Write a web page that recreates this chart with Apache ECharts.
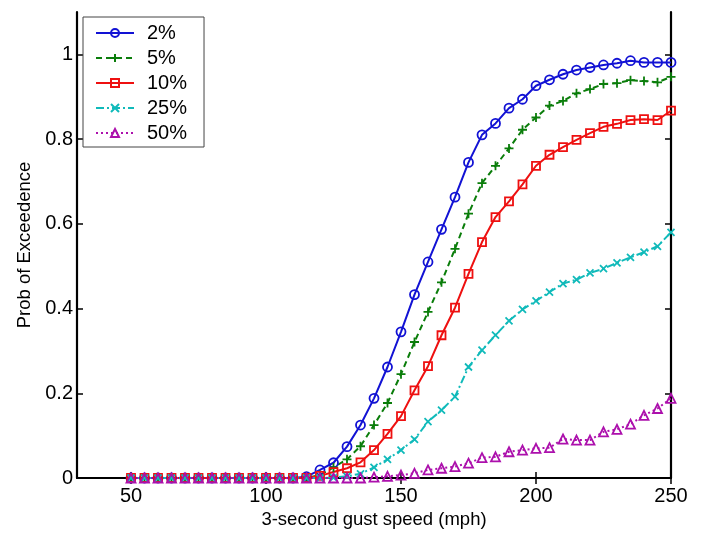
<!DOCTYPE html>
<html>
<head>
<meta charset="utf-8">
<script src="https://cdn.jsdelivr.net/npm/echarts@6/dist/echarts.min.js"></script>
<style>html,body{margin:0;padding:0;background:#fff;}#c{width:708px;height:540px;}</style>
</head>
<body>
<div id="c"></div>
<script>
var speeds = [50,55,60,65,70,75,80,85,90,95,100,105,110,115,120,125,130,135,140,145,150,155,160,165,170,175,180,185,190,195,200,205,210,215,220,225,230,235,240,245,250];
var p2  = [0,0,0,0,0,0,0,0,0,0,0,0,0,0.003,0.019,0.036,0.074,0.125,0.188,0.262,0.345,0.433,0.510,0.587,0.663,0.745,0.810,0.837,0.873,0.894,0.926,0.940,0.953,0.963,0.969,0.975,0.979,0.985,0.981,0.981,0.981];
var p5  = [0,0,0,0,0,0,0,0,0,0,0,0,0,0,0.007,0.025,0.044,0.075,0.125,0.177,0.245,0.321,0.392,0.462,0.541,0.624,0.696,0.737,0.778,0.822,0.851,0.879,0.890,0.908,0.918,0.930,0.932,0.939,0.937,0.934,0.947];
var p10 = [0,0,0,0,0,0,0,0,0,0,0,0,0,0,0.005,0.014,0.023,0.037,0.066,0.104,0.146,0.207,0.264,0.337,0.402,0.482,0.557,0.616,0.653,0.693,0.737,0.763,0.781,0.798,0.814,0.829,0.836,0.845,0.847,0.845,0.867];
var p25 = [0,0,0,0,0,0,0,0,0,0,0,0,0,0,0,0.001,0.004,0.010,0.025,0.044,0.066,0.091,0.133,0.160,0.192,0.262,0.302,0.337,0.371,0.398,0.418,0.439,0.459,0.468,0.484,0.494,0.508,0.521,0.533,0.547,0.580];
var p50 = [0,0,0,0,0,0,0,0,0,0,0,0,0,0,0,0,0,0,0.002,0.004,0.007,0.011,0.019,0.023,0.027,0.035,0.048,0.050,0.062,0.066,0.070,0.0715,0.092,0.0895,0.0895,0.109,0.115,0.127,0.148,0.164,0.188];
var seriesNames = ['2%','5%','10%','25%','50%'];
var xTicks = [50,100,150,200,250];
var yTicks = [0,0.2,0.4,0.6,0.8,1];

var FONT = 'Liberation Sans, Arial, Helvetica, sans-serif';
function pairs(v){ return speeds.map(function(s,i){ return [s, v[i]]; }); }
function mk(name, vals, color, symbol, dash, size){
  return {
    name: name, type: 'line', data: pairs(vals),
    symbol: symbol, symbolSize: size,
    lineStyle: {color: color, width: 2, type: dash},
    itemStyle: {color: 'rgba(0,0,0,0)', borderColor: color, borderWidth: 1.8},
    emphasis: {disabled: true}, animation: false
  };
}
var plusPath = 'path://M0,-1L0,1M-1,0L1,0';
var crossPath = 'path://M-1,-1L1,1M-1,1L1,-1';
var series = [
  mk(seriesNames[0], p2,  '#1212d4', 'circle', 'solid', 9),
  mk(seriesNames[1], p5,  '#0a7d0a', plusPath, [6,4], 9),
  mk(seriesNames[2], p10, '#ee1010', 'rect', 'solid', 8),
  mk(seriesNames[3], p25, '#10baba', crossPath, [8,3,2,3], 7),
  mk(seriesNames[4], p50, '#ac10ac', 'triangle', [2,3], 9)
];

var axisLineStyle = {color: '#000', width: 2.2};
var chart = echarts.init(document.getElementById('c'), null, {renderer: 'canvas'});
chart.setOption({
  backgroundColor: '#fff',
  animation: false,
  grid: {left: 77, right: 37, top: 12, bottom: 62, containLabel: false},
  legend: {
    orient: 'vertical', left: 83, top: 17,
    padding: [6, 17, 4, 12],
    itemWidth: 38, itemHeight: 10, itemGap: 5,
    backgroundColor: '#fff', borderColor: '#444', borderWidth: 1,
    textStyle: {fontFamily: FONT, fontSize: 20, color: '#000', padding: [0,0,0,8]},
    data: seriesNames
  },
  xAxis: [{
    type: 'value', min: 30, max: 250,
    name: '3-second gust speed (mph)', nameLocation: 'middle', nameGap: 21,
    nameTextStyle: {fontFamily: FONT, fontSize: 18.5, color: '#000'},
    axisLine: {show: true, lineStyle: axisLineStyle},
    axisTick: {show: true, inside: true, length: 6, lineStyle: {color: '#000', width: 1.5}, customValues: xTicks},
    axisLabel: {show: true, margin: 8, fontFamily: FONT, fontSize: 20, color: '#000', customValues: xTicks},
    splitLine: {show: false}
  },{
    type: 'value', min: 30, max: 250, position: 'top',
    axisLine: {show: true, lineStyle: axisLineStyle},
    axisTick: {show: true, inside: true, length: 6, lineStyle: {color: '#000', width: 1.5}, customValues: xTicks},
    axisLabel: {show: false},
    splitLine: {show: false}
  }],
  yAxis: [{
    type: 'value', min: 0, max: 1.1,
    name: 'Prob of Exceedence', nameLocation: 'middle', nameGap: 40,
    nameTextStyle: {fontFamily: FONT, fontSize: 18.5, color: '#000'},
    axisLine: {show: true, lineStyle: axisLineStyle},
    axisTick: {show: true, inside: true, length: 6, lineStyle: {color: '#000', width: 1.5}, customValues: yTicks},
    axisLabel: {show: true, margin: 4, fontFamily: FONT, fontSize: 20, color: '#000', customValues: yTicks},
    splitLine: {show: false}
  },{
    type: 'value', min: 0, max: 1.1, position: 'right',
    axisLine: {show: true, lineStyle: axisLineStyle},
    axisTick: {show: true, inside: true, length: 6, lineStyle: {color: '#000', width: 1.5}, customValues: yTicks},
    axisLabel: {show: false},
    splitLine: {show: false}
  }],
  series: series
});
</script>
</body>
</html>
